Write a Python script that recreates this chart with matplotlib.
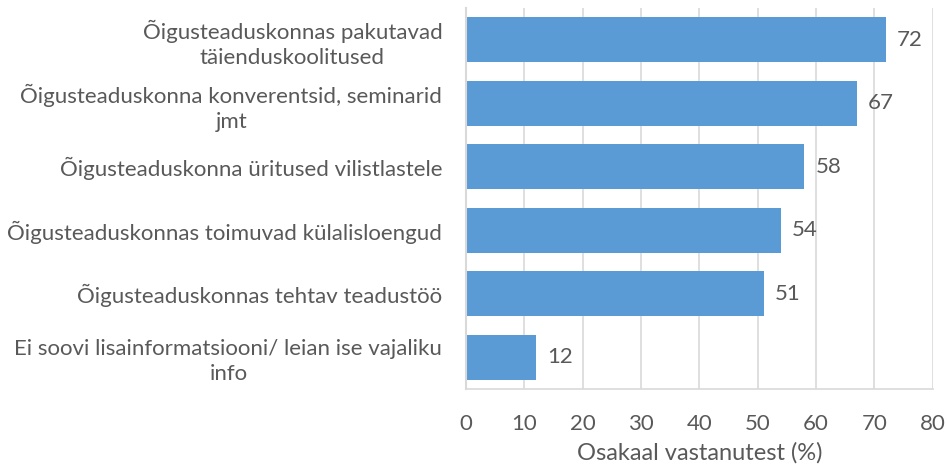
import matplotlib.pyplot as plt

categories = [
    "Õigusteaduskonnas pakutavad\ntäienduskoolitused",
    "Õigusteaduskonna konverentsid, seminarid\njmt",
    "Õigusteaduskonna üritused vilistlastele",
    "Õigusteaduskonnas toimuvad külalisloengud",
    "Õigusteaduskonnas tehtav teadustöö",
    "Ei soovi lisainformatsiooni/ leian ise vajaliku\ninfo",
]
values = [72, 67, 58, 54, 51, 12]
xticks = [0, 10, 20, 30, 40, 50, 60, 70, 80]

text_color = "#595959"
grid_color = "#D9D9D9"
bar_color = "#5B9BD5"

plt.rcParams['font.family'] = ['Lato', 'DejaVu Sans']

fig = plt.figure(figsize=(9.47, 4.71), dpi=100)
ax = fig.add_axes([0.492, 0.174, 0.493, 0.809])

pos = list(range(len(categories)))
ax.barh(pos, values, height=0.71, color=bar_color, zorder=2)
ax.set_ylim(len(categories) - 0.5, -0.5)
ax.set_xlim(0, 80)

for p, v in zip(pos, values):
    ax.text(v + 1.9, p, str(v), va='center', ha='left', fontsize=16, color=text_color)

ax.set_yticks(pos)
ax.set_yticklabels(categories, fontsize=16, color=text_color, linespacing=1.3)
for lbl in ax.get_yticklabels():
    lbl.set_multialignment('center')
ax.set_xticks(xticks)
ax.set_xticklabels([str(t) for t in xticks], fontsize=16, color=text_color)
ax.tick_params(axis='both', length=0)
ax.tick_params(axis='y', pad=17)
ax.tick_params(axis='x', pad=18)

ax.grid(axis='x', color=grid_color, linewidth=1.2, zorder=0)
for s in ['top', 'right']:
    ax.spines[s].set_visible(False)
ax.spines['left'].set_color(grid_color)
ax.spines['bottom'].set_color(grid_color)
ax.spines['left'].set_linewidth(1.5)
ax.spines['bottom'].set_linewidth(1.2)

ax.set_xlabel("Osakaal vastanutest (%)", fontsize=17, color=text_color, labelpad=6)

fig.savefig("out.png", dpi=100)
